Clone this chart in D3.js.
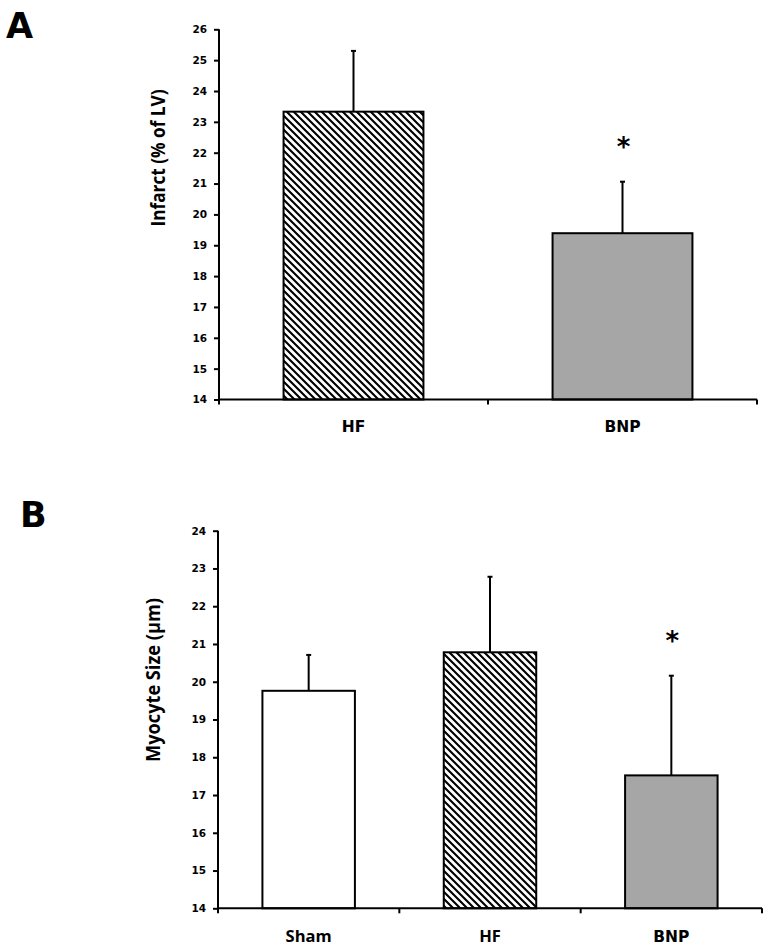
<!DOCTYPE html>
<html><head><meta charset="utf-8">
<script src="https://cdn.jsdelivr.net/npm/d3@7"></script>
<style>body{margin:0;background:#fff}svg{display:block}</style>
</head><body>
<script>
// Panel A data
const catsA = ["HF", "BNP"];
const meansA = [23.33, 19.39];
const errA = [1.97, 1.67];
const fillsA = ["hatch", "gray"];
const sigA = ["", "*"];
const ticksA = [14,15,16,17,18,19,20,21,22,23,24,25,26];
// Panel B data
const catsB = ["Sham", "HF", "BNP"];
const meansB = [19.76, 20.78, 17.52];
const errB = [0.95, 2.0, 2.64];
const fillsB = ["white", "hatch", "gray"];
const sigB = ["", "", "*"];
const ticksB = [14,15,16,17,18,19,20,21,22,23,24];

const svg = d3.select("body").append("svg").attr("width", 772).attr("height", 951);
const defs = svg.append("defs");
const P = 7;
const pat = defs.append("pattern").attr("id","hatch").attr("patternUnits","userSpaceOnUse")
  .attr("width",P).attr("height",P);
pat.append("rect").attr("width",P).attr("height",P).attr("fill","#fff");
pat.append("path").attr("d",`M-1,-1 L${P+1},${P+1} M-1,${P-1} L1,${P+1} M${P-1},-1 L${P+1},1`)
  .attr("stroke","#000").attr("stroke-width",2.1);

const fillOf = f => f === "hatch" ? "url(#hatch)" : (f === "gray" ? "#a6a6a6" : "#fff");

function panel(o){
  const g = svg.append("g");
  const x = d3.scaleBand().domain(o.cats).range(o.xr).paddingInner(0).paddingOuter(0);
  const y = d3.scaleLinear().domain([o.ticks[0], o.ticks[o.ticks.length-1]]).range(o.yr);
  const bw = x.bandwidth()*o.barFrac;
  o.cats.forEach((c,i)=>{
    const cx = x(c)+x.bandwidth()/2;
    g.append("line").attr("x1",cx).attr("x2",cx).attr("y1",y(o.means[i])).attr("y2",y(o.means[i]+o.err[i]))
      .attr("stroke","#000").attr("stroke-width",2);
    g.append("line").attr("x1",cx-2.5).attr("x2",cx+2.5).attr("y1",y(o.means[i]+o.err[i])).attr("y2",y(o.means[i]+o.err[i]))
      .attr("stroke","#000").attr("stroke-width",2);
    g.append("rect").attr("x",cx-bw/2).attr("y",y(o.means[i])).attr("width",bw)
      .attr("height",y(o.ticks[0])-y(o.means[i])).attr("fill",fillOf(o.fills[i]))
      .attr("stroke","#000").attr("stroke-width",2);
    if(o.sig[i]){
      g.append("text").attr("x",cx+1).attr("y",y(o.means[i]+o.err[i])-o.starOff).attr("text-anchor","middle")
        .attr("font-family","DejaVu Sans").attr("font-weight","bold").attr("font-size",26).text(o.sig[i]);
    }
  });
  const ya = g.append("g").attr("transform",`translate(${o.xr[0]},0)`)
    .call(d3.axisLeft(y).tickValues(o.ticks).tickSize(5).tickPadding(7).tickFormat(d3.format("d")));
  ya.select(".domain").attr("stroke","#000").attr("stroke-width",2).attr("d",`M0,${o.yr[1]}H0V${o.yr[0]+4}`);
  ya.selectAll(".tick line").attr("stroke","#000").attr("stroke-width",2);
  ya.selectAll(".tick text").attr("font-family","DejaVu Sans").attr("font-weight","bold").attr("font-size",10.5).attr("fill","#000");
  const bounds = [o.xr[0]].concat(o.cats.map(c=>x(c)+x.bandwidth()));
  g.append("line").attr("x1",o.xr[0]).attr("x2",o.xr[1]).attr("y1",o.yr[0]).attr("y2",o.yr[0])
    .attr("stroke","#000").attr("stroke-width",2);
  bounds.forEach(b=>{
    g.append("line").attr("x1",b).attr("x2",b).attr("y1",o.yr[0]).attr("y2",o.yr[0]+5)
      .attr("stroke","#000").attr("stroke-width",2);
  });
  o.cats.forEach((c,i)=>{
    const f = o.catFont(c);
    g.append("text").attr("x",x(c)+x.bandwidth()/2).attr("y",o.labY).attr("text-anchor","middle")
      .attr("font-family",f.family).attr("font-weight","bold").attr("font-size",f.size).attr("fill","#000").text(c);
  });
  g.append("text").attr("transform",`translate(${o.titleX},${o.titleY}) rotate(-90)`).attr("text-anchor","middle")
    .attr("font-family","Open Sans").attr("font-weight","bold").attr("font-size",20)
    .attr("textLength",o.titleLen).attr("lengthAdjust","spacingAndGlyphs").text(o.title);
  g.append("text").attr("x",o.letterX).attr("y",o.letterY).attr("font-family","DejaVu Sans")
    .attr("font-weight","bold").attr("font-size",35).text(o.letter);
}

panel({cats:catsA, means:meansA, err:errA, fills:fillsA, sig:sigA, ticks:ticksA,
  xr:[219,757], yr:[399.5,29.3], barFrac:0.52, starOff:26,
  labY:432, catFont:c=>({family:"DejaVu Sans", size:15.5}),
  title:"Infarct (% of LV)", titleX:165, titleY:158, titleLen:137,
  letter:"A", letterX:6, letterY:38});

panel({cats:catsB, means:meansB, err:errB, fills:fillsB, sig:sigB, ticks:ticksB,
  xr:[218,762], yr:[908.3,530.7], barFrac:0.51, starOff:26,
  labY:942, catFont:c=>(c==="BNP"?{family:"DejaVu Sans", size:15.5}:{family:"Open Sans", size:16.5}),
  title:"Myocyte Size (µm)", titleX:160, titleY:680, titleLen:164,
  letter:"B", letterX:20, letterY:527});
</script>
</body></html>
